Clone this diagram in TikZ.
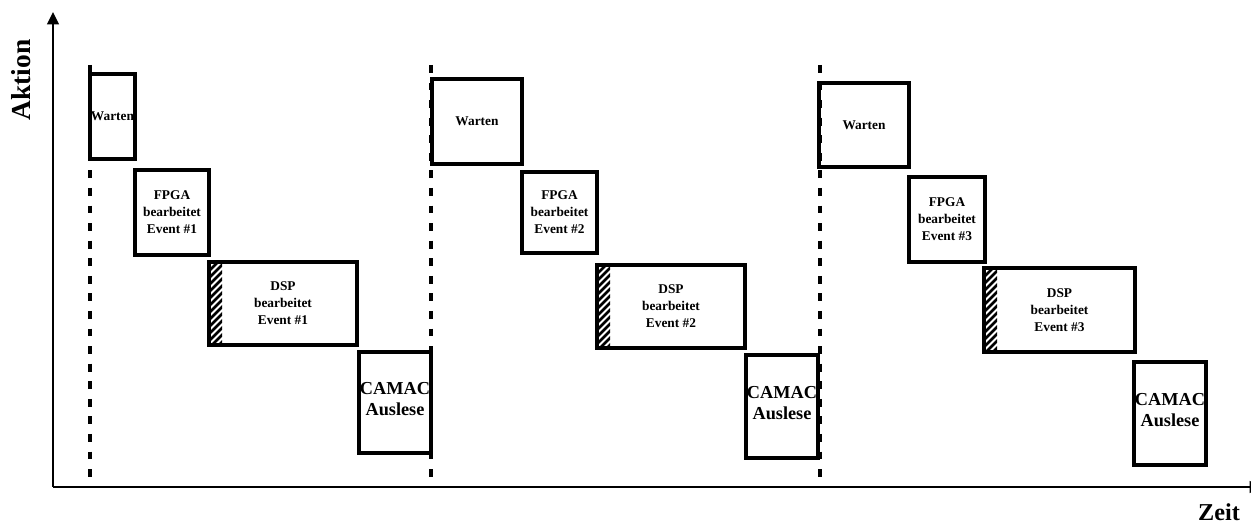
\documentclass[tikz,border=0pt]{standalone}
\usepackage{fontspec}
\setmainfont{Liberation Serif}
\usetikzlibrary{arrows.meta,fit}
\begin{document}
\begin{tikzpicture}[x=0.02cm,y=-0.02cm,
  box/.style={draw, line width=2pt, inner sep=0pt},
  smalltxt/.style={align=center, inner sep=0pt, font=\bfseries\fontsize{7.6}{9.6}\selectfont},
  bigtxt/.style={align=center, inner sep=0pt, font=\bfseries\fontsize{10.4}{12}\selectfont},
  axis/.style={line width=1.5pt},
  dashline/.style={line width=2pt, dash pattern=on 4.5pt off 5.5pt},
  hatch/.style={line width=1.6pt}]
\useasboundingbox (0,0) rectangle (1251,526);

% axes
\coordinate (o) at (53,487);
\coordinate (ytop) at (53,12);
\coordinate (xend) at (1262,487);
\draw[axis, -{Triangle[length=7pt,width=6.5pt]}] (o) -- (ytop);
\draw[axis, -{Triangle[length=7pt,width=6.5pt]}] (o) -- (xend);
\node[rotate=90, inner sep=0pt, font=\bfseries\fontsize{15.6}{18}\selectfont] (aktion) at (21,80) {Aktion};
\node[inner sep=0pt, font=\bfseries\fontsize{13.8}{16}\selectfont] (zeit) at (1219,512) {Zeit};

% dashed lines
\draw[dashline] (90,65) -- (90,487);
\draw[dashline] (431,65) -- (431,487);
\draw[dashline] (820,65) -- (820,487);

% hatched strips
\foreach \x/\t/\b in {209/262/345, 597/265/348, 984/268/352}{
  \begin{scope}
    \clip (\x,\t) rectangle (\x+13,\b);
    \foreach \k in {-3,...,16}{
      \draw[hatch] (\x-5,\t+\k*7) -- ++(25,-25);
    }
  \end{scope}
}

% group 1
\node[box, fit={(90,74) (135,159)}] (w1) {};
\node[smalltxt] (w1t) at (w1.center) {Warten};
\node[box, fit={(135,170) (209,255)}] (f1) {};
\node[smalltxt] (f1t) at (f1.center) {FPGA\\bearbeitet\\Event \#1};
\node[box, fit={(209,262) (357,345)}] (d1) {};
\node[smalltxt] (d1t) at (d1.center) {DSP\\bearbeitet\\Event \#1};
\node[box, fit={(359,352) (431,453)}] (c1) {};
\node[bigtxt] (c1t) at ([yshift=0.06cm]c1.center) {CAMAC\\Auslese};

% group 2
\node[box, fit={(432,79) (522,164)}] (w2) {};
\node[smalltxt] (w2t) at (w2.center) {Warten};
\node[box, fit={(522,172) (597,253)}] (f2) {};
\node[smalltxt] (f2t) at (f2.center) {FPGA\\bearbeitet\\Event \#2};
\node[box, fit={(597,265) (745,348)}] (d2) {};
\node[smalltxt] (d2t) at (d2.center) {DSP\\bearbeitet\\Event \#2};
\node[box, fit={(746,355) (818,458)}] (c2) {};
\node[bigtxt] (c2t) at ([yshift=0.06cm]c2.center) {CAMAC\\Auslese};

% group 3
\node[box, fit={(819,83) (909,167)}] (w3) {};
\node[smalltxt] (w3t) at (w3.center) {Warten};
\node[box, fit={(909,177) (985,262)}] (f3) {};
\node[smalltxt] (f3t) at (f3.center) {FPGA\\bearbeitet\\Event \#3};
\node[box, fit={(984,268) (1135,352)}] (d3) {};
\node[smalltxt] (d3t) at (d3.center) {DSP\\bearbeitet\\Event \#3};
\node[box, fit={(1134,362) (1206,465)}] (c3) {};
\node[bigtxt] (c3t) at ([yshift=0.06cm]c3.center) {CAMAC\\Auslese};
\end{tikzpicture}
\end{document}
